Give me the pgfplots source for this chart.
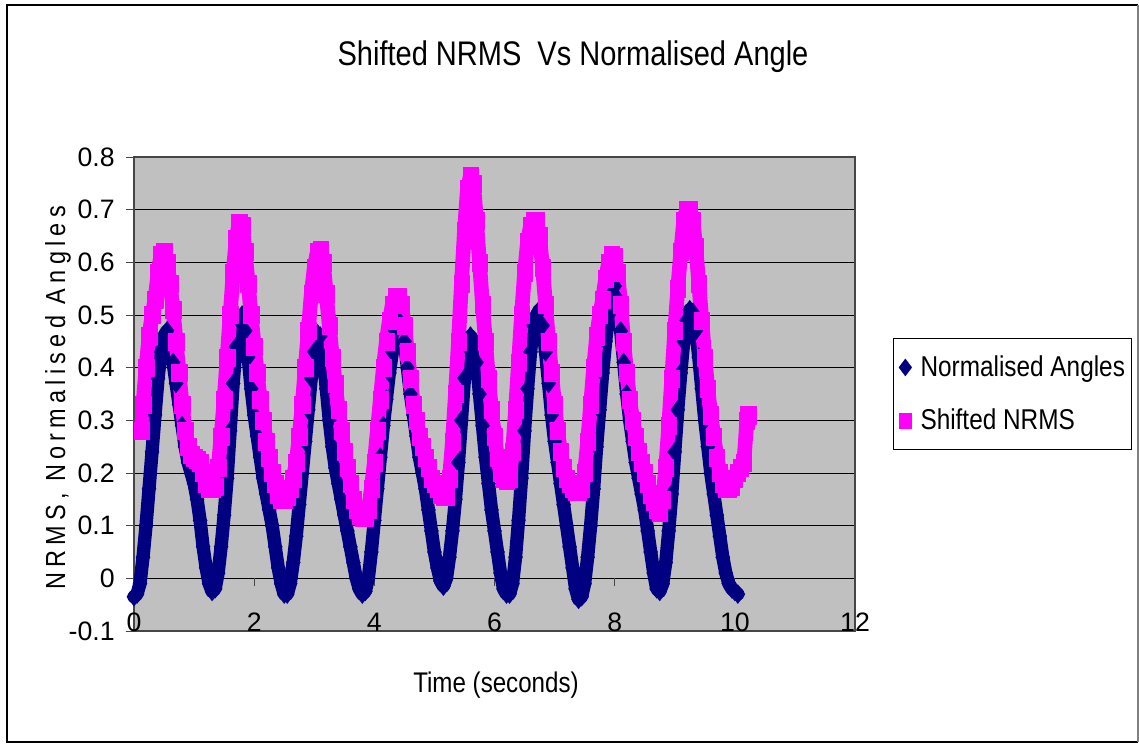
\documentclass[border=0pt]{standalone}
\usepackage{pgfplots}
\pgfplotsset{compat=1.18}
\usepackage{pgfplotstable}
\usepackage{fontspec}
\setmainfont{Liberation Sans}[FakeStretch=0.85]
\newfontfamily\tickfont{Liberation Sans}
\newfontfamily\spacedfont{Liberation Sans}[FakeStretch=0.85, LetterSpace=19]
\definecolor{navyA}{RGB}{0,0,128}
\definecolor{magA}{RGB}{255,0,255}
\definecolor{plotgray}{RGB}{192,192,192}

\pgfplotstableread{
t v
0.00 -0.035
0.05 -0.03
0.10 -0.01
0.15 0.04
0.20 0.10
0.25 0.17
0.30 0.24
0.35 0.31
0.40 0.38
0.45 0.43
0.50 0.46
0.55 0.47
0.60 0.45
0.65 0.41
0.70 0.37
0.75 0.33
0.80 0.29
0.85 0.25
0.90 0.22
0.95 0.20
1.00 0.18
1.05 0.15
1.10 0.11
1.15 0.06
1.20 0.02
1.25 -0.01
1.30 -0.025
1.35 -0.02
1.40 0.01
1.45 0.06
1.50 0.12
1.55 0.19
1.60 0.28
1.65 0.37
1.70 0.44
1.75 0.49
1.80 0.50
1.85 0.47
1.90 0.42
1.95 0.36
2.00 0.31
2.05 0.27
2.10 0.23
2.15 0.19
2.20 0.16
2.25 0.13
2.30 0.10
2.35 0.06
2.40 0.02
2.45 -0.01
2.50 -0.03
2.55 -0.03
2.60 -0.01
2.65 0.03
2.70 0.08
2.75 0.14
2.80 0.20
2.85 0.26
2.90 0.32
2.95 0.38
3.00 0.43
3.05 0.465
3.10 0.46
3.15 0.42
3.20 0.36
3.25 0.30
3.30 0.25
3.35 0.21
3.40 0.18
3.45 0.15
3.50 0.12
3.55 0.09
3.60 0.06
3.65 0.03
3.70 0.00
3.75 -0.02
3.80 -0.03
3.85 -0.025
3.90 0.00
3.95 0.05
4.00 0.11
4.05 0.17
4.10 0.23
4.15 0.29
4.20 0.34
4.25 0.39
4.30 0.43
4.35 0.47
4.40 0.49
4.45 0.48
4.50 0.45
4.55 0.40
4.60 0.35
4.65 0.31
4.70 0.27
4.75 0.23
4.80 0.20
4.85 0.17
4.90 0.13
4.95 0.09
5.00 0.05
5.05 0.02
5.10 -0.005
5.15 -0.015
5.20 0.00
5.25 0.04
5.30 0.09
5.35 0.15
5.40 0.22
5.45 0.30
5.50 0.38
5.55 0.44
5.60 0.46
5.65 0.45
5.70 0.41
5.75 0.35
5.80 0.29
5.85 0.23
5.90 0.18
5.95 0.13
6.00 0.09
6.05 0.05
6.10 0.01
6.15 -0.02
6.20 -0.03
6.25 -0.03
6.30 -0.01
6.35 0.04
6.40 0.11
6.45 0.19
6.50 0.28
6.55 0.36
6.60 0.43
6.65 0.48
6.70 0.50
6.75 0.51
6.80 0.48
6.85 0.43
6.90 0.37
6.95 0.31
7.00 0.26
7.05 0.22
7.10 0.18
7.15 0.14
7.20 0.10
7.25 0.06
7.30 0.02
7.35 -0.02
7.40 -0.04
7.45 -0.035
7.50 -0.01
7.55 0.04
7.60 0.10
7.65 0.17
7.70 0.25
7.75 0.32
7.80 0.39
7.85 0.45
7.90 0.50
7.95 0.54
8.00 0.555
8.05 0.53
8.10 0.47
8.15 0.41
8.20 0.35
8.25 0.30
8.30 0.26
8.35 0.22
8.40 0.19
8.45 0.16
8.50 0.13
8.55 0.09
8.60 0.05
8.65 0.01
8.70 -0.02
8.75 -0.025
8.80 -0.01
8.85 0.03
8.90 0.09
8.95 0.16
9.00 0.24
9.05 0.32
9.10 0.39
9.15 0.45
9.20 0.49
9.25 0.51
9.30 0.505
9.35 0.47
9.40 0.42
9.45 0.36
9.50 0.30
9.55 0.25
9.60 0.20
9.65 0.16
9.70 0.12
9.75 0.08
9.80 0.04
9.85 0.01
9.90 -0.01
9.95 -0.02
10.00 -0.025
10.05 -0.03
}\angles

\pgfplotstableread{
t v
0.13 0.28
0.15 0.33
0.20 0.40
0.25 0.46
0.30 0.50
0.35 0.53
0.40 0.58
0.45 0.615
0.50 0.62
0.55 0.60
0.60 0.56
0.65 0.51
0.70 0.45
0.75 0.39
0.80 0.33
0.85 0.28
0.90 0.25
0.95 0.235
1.00 0.23
1.05 0.225
1.10 0.22
1.15 0.20
1.20 0.18
1.25 0.17
1.30 0.17
1.35 0.175
1.40 0.21
1.45 0.27
1.50 0.34
1.55 0.42
1.60 0.50
1.65 0.58
1.70 0.645
1.75 0.675
1.80 0.67
1.85 0.62
1.90 0.56
1.95 0.50
2.00 0.44
2.05 0.39
2.10 0.34
2.15 0.30
2.20 0.26
2.25 0.23
2.30 0.20
2.35 0.18
2.40 0.16
2.45 0.15
2.50 0.15
2.55 0.155
2.60 0.17
2.65 0.19
2.70 0.22
2.75 0.27
2.80 0.33
2.85 0.40
2.90 0.47
2.95 0.54
3.00 0.59
3.05 0.62
3.10 0.625
3.15 0.60
3.20 0.54
3.25 0.48
3.30 0.42
3.35 0.37
3.40 0.32
3.45 0.28
3.50 0.24
3.55 0.21
3.60 0.18
3.65 0.15
3.70 0.13
3.75 0.12
3.80 0.115
3.85 0.115
3.90 0.13
3.95 0.17
4.00 0.22
4.05 0.28
4.10 0.34
4.15 0.40
4.20 0.45
4.25 0.49
4.30 0.52
4.35 0.535
4.40 0.535
4.45 0.52
4.50 0.48
4.55 0.43
4.60 0.38
4.65 0.33
4.70 0.30
4.75 0.27
4.80 0.25
4.85 0.23
4.90 0.21
4.95 0.19
5.00 0.18
5.05 0.17
5.10 0.16
5.15 0.155
5.20 0.155
5.25 0.19
5.30 0.26
5.35 0.35
5.40 0.45
5.45 0.56
5.50 0.66
5.55 0.74
5.60 0.765
5.65 0.75
5.70 0.68
5.75 0.60
5.80 0.52
5.85 0.45
5.90 0.38
5.95 0.32
6.00 0.27
6.05 0.23
6.10 0.20
6.15 0.19
6.20 0.185
6.25 0.19
6.30 0.24
6.35 0.32
6.40 0.41
6.45 0.50
6.50 0.58
6.55 0.64
6.60 0.67
6.65 0.68
6.70 0.68
6.75 0.65
6.80 0.59
6.85 0.52
6.90 0.45
6.95 0.39
7.00 0.33
7.05 0.28
7.10 0.24
7.15 0.21
7.20 0.19
7.25 0.18
7.30 0.17
7.35 0.165
7.40 0.165
7.45 0.17
7.50 0.20
7.55 0.26
7.60 0.33
7.65 0.40
7.70 0.46
7.75 0.50
7.80 0.53
7.85 0.57
7.90 0.60
7.95 0.615
8.00 0.61
8.05 0.58
8.10 0.52
8.15 0.45
8.20 0.39
8.25 0.34
8.30 0.30
8.35 0.27
8.40 0.24
8.45 0.22
8.50 0.20
8.55 0.18
8.60 0.16
8.65 0.145
8.70 0.13
8.75 0.125
8.80 0.15
8.85 0.21
8.90 0.29
8.95 0.38
9.00 0.47
9.05 0.55
9.10 0.62
9.15 0.68
9.20 0.70
9.25 0.70
9.30 0.68
9.35 0.63
9.40 0.56
9.45 0.49
9.50 0.42
9.55 0.36
9.60 0.31
9.65 0.27
9.70 0.23
9.75 0.20
9.80 0.18
9.85 0.17
9.90 0.17
9.95 0.175
10.00 0.19
10.05 0.20
10.10 0.21
10.15 0.22
10.20 0.30
10.22 0.31
}\nrms

\begin{document}
\begin{tikzpicture}
\useasboundingbox (0,0) rectangle (854.25pt,557.25pt);
\fill[white] (0,0) rectangle (854.25pt,557.25pt);
\draw[black, line width=0.9pt] (853.5pt,0.75pt) -- (5.25pt,0.75pt) -- (5.25pt,553.5pt) -- (853.5pt,553.5pt);
\draw[gray, line width=0.9pt] (853.5pt,553.5pt) -- (853.5pt,0.75pt);
\node[anchor=base, font=\fontsize{25.6}{30}\selectfont] at (429.75pt,507.75pt) {Shifted NRMS\ \ Vs Normalised Angle};
\node[anchor=base, font=\fontsize{21.3}{25}\selectfont] at (372pt,38.25pt) {Time (seconds)};
\node[anchor=base, rotate=90, font=\fontsize{20.7}{24}\spacedfont] at (48.75pt,258.75pt) {NRMS, Normalised Angles};
\begin{axis}[
  at={(100.5pt,84pt)}, anchor=south west,
  scale only axis, width=540.75pt, height=355.5pt,
  xmin=0, xmax=12, ymin=-0.1, ymax=0.8,
  xtick={0,2,4,6,8,10,12},
  ytick={-0.1,0,0.1,0.2,0.3,0.4,0.5,0.6,0.7,0.8},
  /pgf/number format/assume math mode=true,
  yticklabel style={/pgf/number format/fixed, /pgf/number format/precision=1, xshift=-5pt},
  tick label style={font=\fontsize{20}{24}\tickfont},
  ymajorgrids, grid style={black, line width=0.75pt},
  axis background/.style={fill=plotgray},
  axis line style={draw=gray!55!black, line width=1pt},
  tick style={draw=gray!55!black, line width=0.75pt},
  xtick style={draw=none},
  ytick pos=left, xtick pos=bottom,
  tick align=outside, major tick length=6pt,
  xticklabel style={anchor=base, yshift=5.5pt},
  clip=false,
  legend style={draw=black, line width=0.75pt, fill=white,
    at={(1,0.5)}, anchor=west, xshift=28.5pt,
    font=\fontsize{21.5}{25}\selectfont,
    inner xsep=4pt, inner ysep=12.4pt, row sep=20.75pt,
    nodes={inner sep=1pt},
    /tikz/every odd column/.append style={column sep=5.5pt}},
  legend cell align=left,
  legend image code/.code={\draw[#1, mark repeat=2, mark phase=2] plot coordinates {(0pt,0pt) (5pt,0pt) (10pt,0pt)};},
]
\pgfplotsinvokeforeach{2,4,6,8,10,12}{\draw[gray!55!black, line width=0.75pt] (axis cs:#1,0) -- ([yshift=-6pt]axis cs:#1,0);}
\addlegendimage{only marks, mark=diamond*, mark size=6.5pt, navyA, mark options={line width=0.1pt}}
\addlegendimage{only marks, mark=square*, mark size=5.4pt, magA, mark options={line width=0.1pt, xscale=0.85}}
\addplot[forget plot, navyA, line width=10pt, line join=round, line cap=round, mark=diamond*, mark size=7.2pt, mark options={solid, line width=0.1pt, fill=navyA}] table[x=t, y=v] {\angles};
\addplot[forget plot, magA, line width=11pt, line join=round, line cap=rect, mark=square*, mark size=6.4pt, mark options={solid, line width=0.1pt, fill=magA, xscale=0.9}] table[x=t, y=v] {\nrms};
\legend{Normalised Angles, Shifted NRMS}
\end{axis}
\end{tikzpicture}
\end{document}
